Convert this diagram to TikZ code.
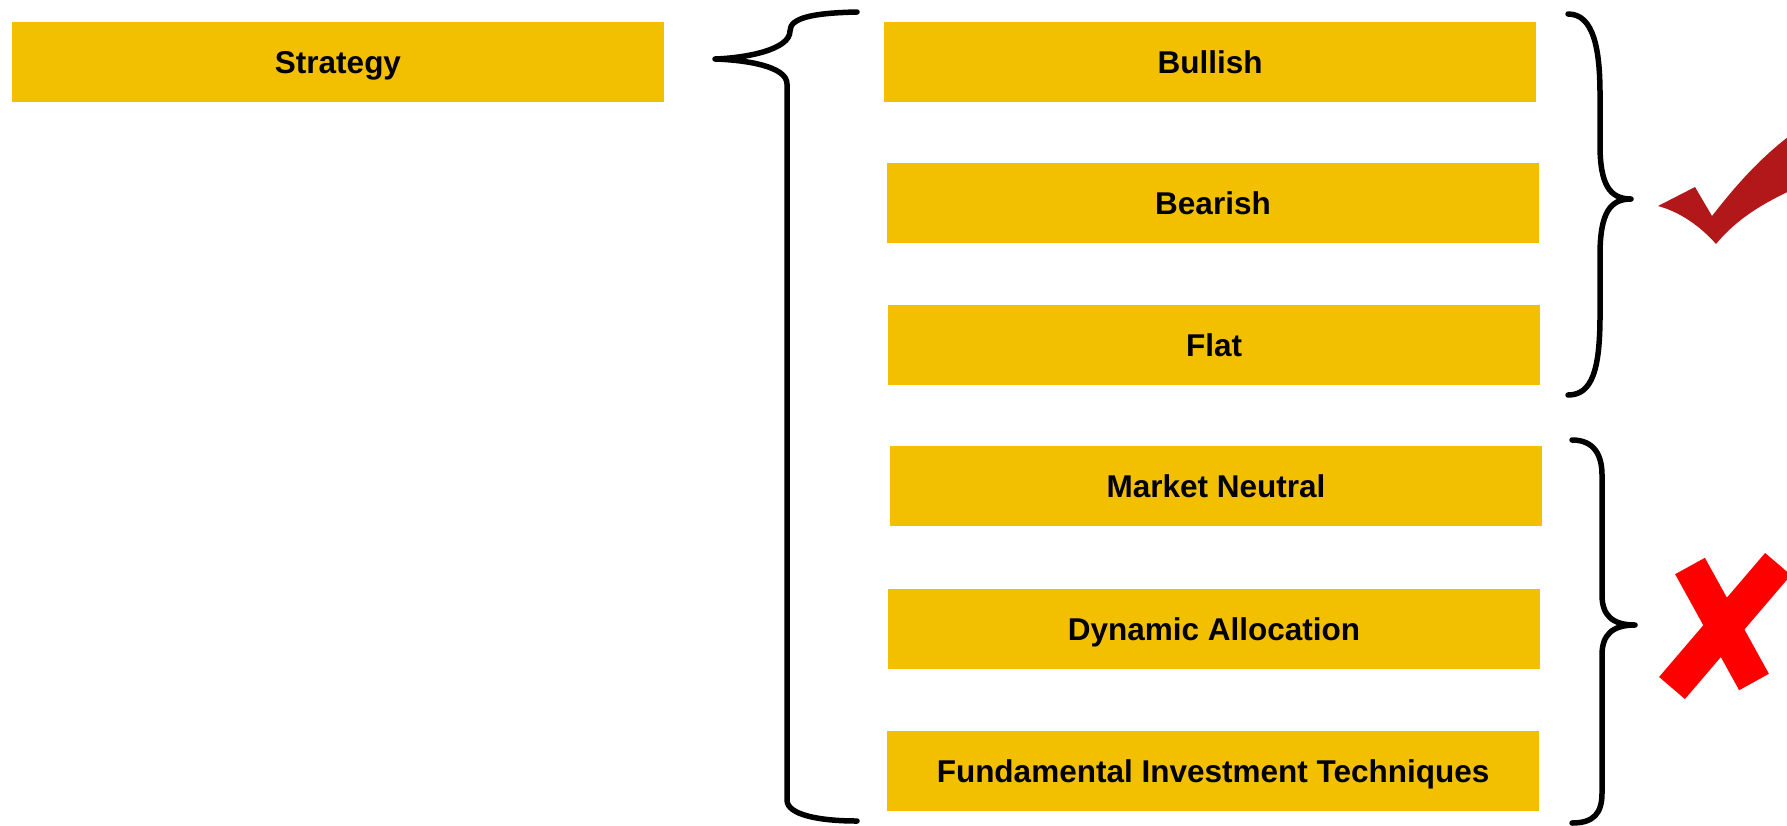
\documentclass[tikz,border=0pt]{standalone}
\usepackage{fontspec}
\setmainfont{Liberation Sans}
\definecolor{boxgold}{RGB}{242,192,0}
\definecolor{checkred}{RGB}{178,24,26}
\definecolor{crossred}{RGB}{255,0,0}
\begin{document}
\begin{tikzpicture}[x=1pt,y=-1pt,
  box/.style={fill=boxgold, draw=none, inner sep=0pt, outer sep=0pt,
    minimum width=652pt, minimum height=80pt, text height=22.5pt, text depth=0pt,
    font=\fontsize{31.5}{36}\selectfont\bfseries, text=black},
  bracestroke/.style={draw=black, line width=5.5pt, line cap=round, line join=round}]
\useasboundingbox (0,0) rectangle (1787,825);

\node[box] (strategy) at (338,62) {Strategy};
\node[box] (bullish) at (1210,62) {Bullish};
\node[box] (bearish) at (1213,203) {Bearish};
\node[box] (flat) at (1214,345) {Flat};
\node[box] (market) at (1216,486) {Market Neutral};
\node[box] (dynamic) at (1214,629) {Dynamic Allocation};
\node[box] (fundamental) at (1213,771) {Fundamental Investment Techniques};

% left brace
\coordinate (ltip) at (715,59);
\draw[bracestroke] (857,12) .. controls (812,13) and (790,18) .. (790,31)
  .. controls (790,50) and (745,58) .. (ltip)
  .. controls (745,60) and (787,66) .. (787,84) -- (787,800)
  .. controls (787,815) and (820,821) .. (857,821);

% right upper brace
\coordinate (rtip1) at (1631,199);
\draw[bracestroke] (1568,14) .. controls (1594,14) and (1600,50) .. (1600,95) -- (1600,145)
  .. controls (1600,185) and (1610,199) .. (rtip1)
  .. controls (1610,199) and (1600,213) .. (1600,255) -- (1600,315)
  .. controls (1600,370) and (1592,395) .. (1568,395);

% right lower brace
\coordinate (rtip2) at (1635,625);
\draw[bracestroke] (1572,440) .. controls (1594,440) and (1602,455) .. (1602,475) -- (1602,595)
  .. controls (1602,615) and (1612,625) .. (rtip2)
  .. controls (1612,625) and (1602,635) .. (1602,655) -- (1602,793)
  .. controls (1602,813) and (1594,823) .. (1572,823);

% check mark
\fill[checkred] (1658,206) -- (1695,187) -- (1712,216)
  .. controls (1740,180) and (1765,153) .. (1800,128) -- (1800,186)
  .. controls (1770,200) and (1740,215) .. (1716,244)
  .. controls (1700,226) and (1680,212) .. (1658,206) -- cycle;

% cross mark
\draw[crossred, line width=34pt] (1690,566) -- (1754,682);
\draw[crossred, line width=34pt] (1778,564) -- (1672,688);
\end{tikzpicture}
\end{document}
